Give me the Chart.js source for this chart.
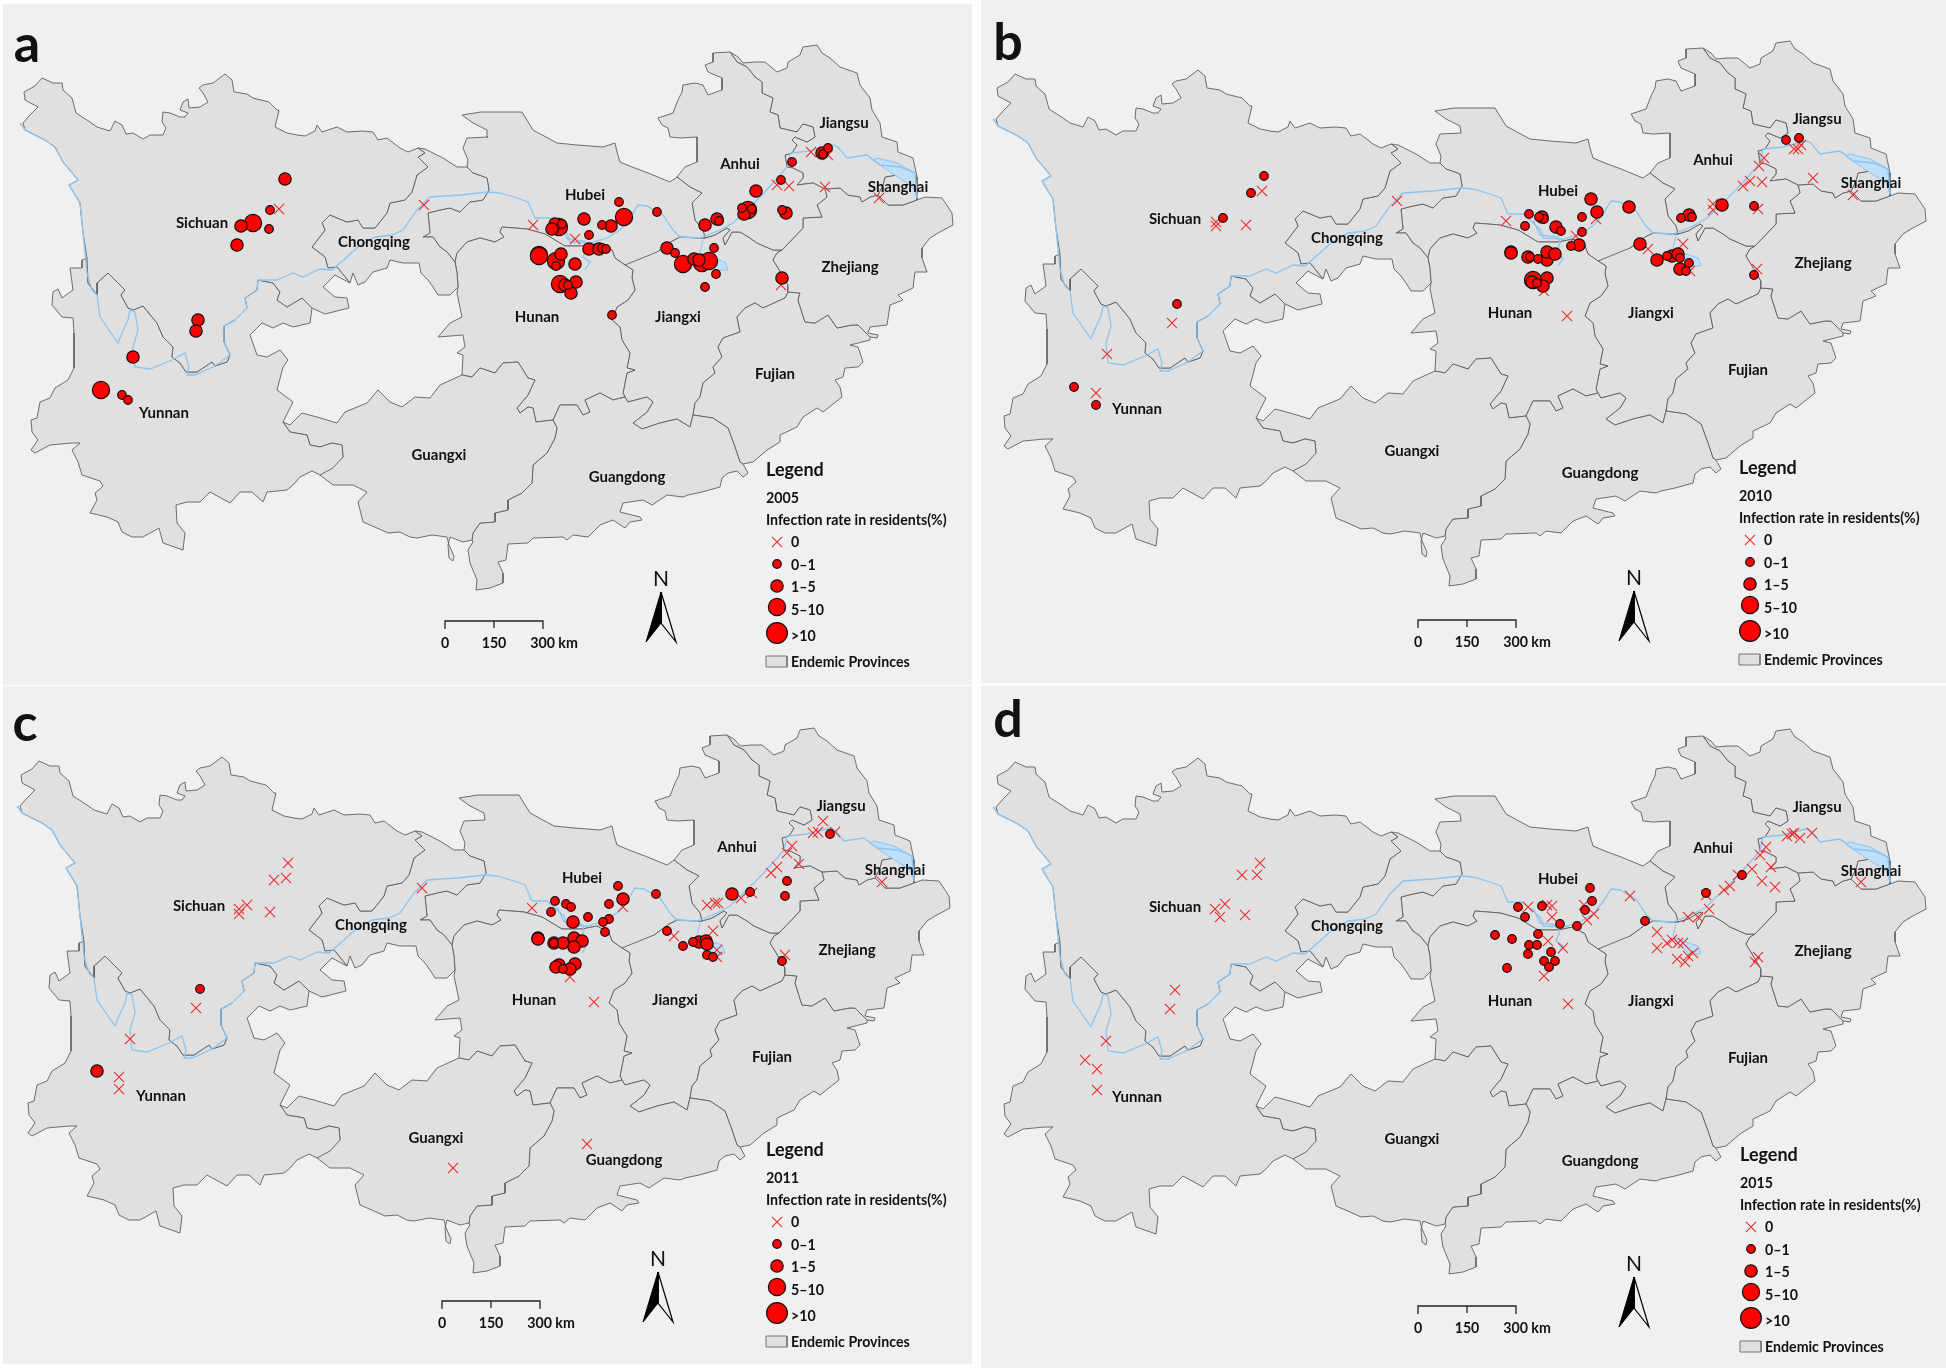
<!DOCTYPE html>
<html>
<head>
<meta charset="utf-8">
<title>Infection rate maps</title>
<script src="https://cdn.jsdelivr.net/npm/chart.js@4"></script>
<style>
  html,body { margin:0; padding:0; background:#fff; width:1946px; height:1372px; overflow:hidden; }
  .panel { position:absolute; background:#f0f0f0; }
  .panel canvas { display:block; }
</style>
</head>
<body>
<script>
// map units are pixels of panel a, the other panels just shift the axis range
const sichuan = [[24,92],[35,86],[42,78],[53,83],[62,83],[63,90],[72,98],[76,113],[90,122],[97,127],[110,131],[115,121],[122,125],[126,134],[133,133],[143,139],[150,135],[163,135],[166,128],[162,122],[163,112],[170,113],[180,117],[185,117],[188,113],[180,110],[183,102],[188,99],[189,108],[200,107],[208,102],[203,93],[199,88],[203,85],[213,83],[225,74],[232,80],[234,92],[247,94],[253,98],[269,102],[277,110],[279,110],[275,127],[287,133],[297,135],[305,136],[315,131],[317,125],[322,132],[337,127],[347,132],[363,131],[373,132],[378,140],[387,138],[400,148],[408,152],[418,148],[425,153],[418,157],[428,167],[417,175],[412,192],[405,200],[390,203],[387,213],[375,228],[363,228],[358,220],[347,222],[330,215],[322,223],[325,230],[312,247],[325,257],[328,268],[337,267],[350,283],[335,275],[323,287],[335,297],[347,298],[349,308],[325,314],[312,308],[302,298],[287,307],[277,300],[280,292],[273,283],[258,280],[257,290],[245,298],[247,308],[235,320],[224,326],[224,342],[230,355],[227,362],[215,366],[212,362],[197,372],[186,372],[180,363],[172,357],[173,347],[163,337],[157,323],[143,306],[133,310],[128,308],[121,295],[125,290],[115,280],[108,273],[97,283],[97,295],[88,283],[87,258],[83,233],[80,203],[69,185],[78,180],[63,162],[55,147],[45,140],[25,130],[23,123],[30,115],[38,107],[25,100],[24,92]];
const chongqing = [[418,148],[425,149],[443,158],[457,167],[467,167],[473,173],[487,178],[489,190],[483,200],[470,202],[460,212],[450,208],[440,210],[428,213],[430,233],[423,237],[433,237],[440,247],[447,252],[455,262],[457,273],[458,287],[450,295],[438,295],[433,287],[428,280],[421,273],[419,263],[403,263],[390,260],[387,268],[373,272],[365,282],[358,285],[353,273],[350,283],[337,267],[328,268],[325,257],[312,247],[325,230],[322,223],[330,215],[347,222],[358,220],[363,228],[375,228],[387,213],[390,203],[405,200],[412,192],[417,175],[428,167],[418,157],[425,153],[418,148]];
const yunnan = [[87,258],[82,260],[82,268],[70,268],[73,290],[62,298],[58,289],[53,292],[52,305],[62,317],[73,318],[74,333],[74,368],[68,380],[55,388],[50,398],[40,402],[37,418],[31,420],[32,432],[38,440],[31,450],[35,453],[50,445],[72,443],[80,443],[72,450],[78,462],[82,475],[100,481],[103,486],[95,493],[97,500],[90,513],[107,517],[118,522],[122,532],[132,537],[143,537],[159,528],[163,543],[183,550],[185,533],[177,523],[176,505],[187,502],[200,502],[210,492],[230,503],[240,492],[252,492],[263,502],[267,492],[287,490],[293,485],[300,477],[312,471],[320,475],[333,468],[343,457],[342,445],[332,443],[320,447],[310,445],[307,435],[290,432],[283,422],[293,402],[277,390],[283,367],[288,360],[280,350],[267,357],[257,355],[250,335],[262,323],[273,328],[283,323],[293,327],[310,323],[312,308],[302,298],[287,307],[277,300],[280,292],[273,283],[258,280],[257,290],[245,298],[247,308],[235,320],[224,326],[224,342],[230,355],[227,362],[215,366],[212,362],[197,372],[186,372],[180,363],[172,357],[173,347],[163,337],[157,323],[143,306],[133,310],[128,308],[121,295],[125,290],[115,280],[108,273],[97,283],[97,295],[88,283],[87,258]];
const guangxi = [[283,422],[290,425],[302,413],[317,417],[337,423],[345,412],[367,403],[378,390],[390,402],[402,407],[415,397],[430,398],[440,385],[462,375],[472,377],[480,368],[495,373],[503,363],[518,362],[528,378],[535,380],[528,395],[517,408],[520,413],[528,407],[533,408],[536,422],[553,420],[557,428],[555,438],[547,453],[533,465],[532,483],[522,493],[508,500],[508,510],[495,513],[495,522],[480,523],[473,533],[472,540],[463,542],[450,537],[448,545],[449,558],[453,561],[454,556],[449,545],[447,537],[432,535],[417,538],[410,537],[400,532],[388,533],[377,528],[363,522],[358,502],[367,492],[353,485],[333,485],[320,475],[343,457],[342,445],[332,443],[320,447],[310,445],[307,435],[290,432],[283,422]];
const guangdong = [[553,420],[560,405],[577,405],[583,415],[590,412],[585,400],[600,393],[613,400],[625,397],[628,402],[647,397],[653,402],[647,412],[633,423],[642,429],[660,423],[677,419],[690,427],[693,415],[713,418],[728,428],[735,447],[740,462],[743,464],[748,473],[743,477],[737,471],[728,473],[722,478],[720,487],[702,492],[688,495],[683,497],[667,495],[652,505],[643,500],[623,503],[620,512],[640,517],[642,520],[630,522],[625,528],[613,520],[600,525],[588,537],[573,535],[567,540],[563,537],[533,538],[528,543],[508,544],[506,560],[498,562],[503,573],[503,583],[490,588],[476,590],[477,580],[470,563],[468,550],[473,542],[472,540],[473,533],[480,523],[495,522],[495,513],[508,510],[508,500],[522,493],[532,483],[533,465],[547,453],[555,438],[557,428],[553,420]];
const hunan = [[455,262],[457,253],[467,242],[480,238],[495,242],[504,237],[500,232],[502,227],[527,229],[545,234],[565,246],[585,246],[600,243],[612,250],[615,258],[625,265],[633,270],[632,278],[635,290],[628,300],[617,307],[612,320],[620,327],[622,340],[630,353],[627,368],[635,370],[627,373],[623,393],[625,397],[613,400],[600,393],[585,400],[590,412],[583,415],[577,405],[560,405],[553,420],[536,422],[533,408],[528,407],[520,413],[517,408],[528,395],[535,380],[528,378],[518,362],[503,363],[495,373],[480,368],[472,377],[462,375],[463,355],[457,353],[465,347],[463,335],[438,337],[450,323],[462,317],[457,293],[458,287],[457,273],[455,262]];
const hubei = [[462,115],[481,112],[522,112],[533,130],[557,143],[577,145],[603,147],[615,143],[617,152],[620,162],[632,167],[648,173],[670,182],[677,177],[690,187],[702,193],[692,203],[695,220],[703,230],[705,238],[700,238],[680,237],[672,241],[657,252],[625,265],[615,258],[612,250],[600,243],[585,246],[565,246],[545,234],[527,229],[502,227],[500,232],[504,237],[495,242],[480,238],[467,242],[457,253],[455,262],[447,252],[440,247],[433,237],[423,237],[430,233],[428,213],[440,210],[450,208],[460,212],[470,202],[483,200],[489,190],[487,178],[473,173],[467,167],[468,160],[463,148],[467,138],[488,137],[487,130],[473,123],[462,115]];
const anhui = [[658,118],[662,125],[668,128],[670,137],[680,138],[697,137],[697,162],[685,167],[677,177],[690,187],[702,193],[692,203],[695,220],[703,230],[705,238],[715,235],[727,228],[730,230],[723,238],[725,245],[732,232],[740,232],[750,238],[757,243],[773,250],[782,250],[803,228],[803,218],[822,217],[817,205],[827,197],[825,189],[813,183],[797,185],[803,178],[803,173],[793,168],[787,167],[785,155],[792,153],[797,145],[792,140],[795,137],[807,142],[815,137],[813,127],[803,124],[797,132],[780,128],[778,115],[770,112],[773,98],[762,93],[762,82],[755,77],[747,67],[737,62],[730,52],[713,53],[713,62],[705,65],[708,72],[722,78],[722,90],[708,95],[703,85],[695,83],[683,85],[682,92],[678,100],[673,113],[658,118]];
const jiangsu = [[730,52],[738,57],[743,63],[755,62],[765,62],[777,72],[787,68],[788,62],[800,55],[803,47],[817,45],[822,53],[830,58],[840,67],[857,73],[860,85],[870,98],[872,110],[880,123],[882,137],[897,142],[898,152],[913,158],[917,177],[897,175],[885,177],[883,185],[878,195],[870,197],[862,202],[860,197],[848,195],[840,188],[825,189],[813,183],[797,185],[803,178],[803,173],[793,168],[787,167],[785,155],[792,153],[797,145],[792,140],[795,137],[807,142],[815,137],[813,127],[803,124],[797,132],[780,128],[778,115],[770,112],[773,98],[762,93],[762,82],[755,77],[747,67],[737,62],[730,52]];
const shanghai = [[917,177],[917,200],[903,205],[888,205],[878,195],[883,185],[885,177],[897,175],[917,177]];
const zhejiang = [[917,200],[925,197],[942,198],[952,213],[953,225],[938,233],[930,238],[922,248],[922,258],[927,272],[915,272],[913,288],[898,295],[903,300],[890,305],[887,325],[870,327],[868,333],[878,335],[877,338],[870,337],[858,325],[852,325],[837,328],[828,315],[815,323],[805,322],[798,300],[800,293],[788,292],[788,285],[778,268],[773,260],[777,253],[782,250],[803,228],[803,218],[822,217],[817,205],[827,197],[825,189],[840,188],[848,195],[860,197],[862,202],[870,197],[878,195],[888,205],[903,205],[917,200]];
const fujian = [[788,292],[785,298],[763,308],[755,303],[745,308],[737,317],[740,332],[723,338],[718,347],[722,357],[713,367],[715,373],[703,383],[700,397],[695,403],[693,415],[713,418],[728,428],[735,447],[740,462],[743,464],[753,462],[767,450],[780,442],[780,435],[797,427],[803,417],[817,408],[823,412],[842,397],[840,387],[835,380],[843,377],[845,368],[858,367],[863,362],[858,347],[850,345],[870,340],[870,337],[858,325],[852,325],[837,328],[828,315],[815,323],[805,322],[798,300],[800,293],[788,292]];
const jiangxi = [[625,265],[637,256],[657,252],[672,241],[680,237],[700,238],[705,238],[715,235],[727,228],[730,230],[723,238],[725,245],[732,232],[740,232],[750,238],[757,243],[773,250],[782,250],[777,253],[773,260],[778,268],[788,285],[788,292],[785,298],[763,308],[755,303],[745,308],[737,317],[740,332],[723,338],[718,347],[722,357],[713,367],[715,373],[703,383],[700,397],[695,403],[693,415],[690,427],[677,419],[660,423],[642,429],[633,423],[647,412],[653,402],[647,397],[628,402],[625,397],[623,393],[627,373],[635,370],[627,368],[630,353],[622,340],[620,327],[612,320],[617,307],[628,300],[635,290],[632,278],[633,270],[625,265]];
const provinceShapes = [sichuan, chongqing, yunnan, guangxi, guangdong, hunan, hubei, anhui, jiangsu, shanghai, zhejiang, fujian, jiangxi];

const riverMain = [[20,123],[25,130],[45,140],[55,147],[63,162],[78,180],[69,185],[80,203],[83,233],[87,273],[92,290],[97,295],[100,317],[118,343],[122,333],[128,320],[130,310],[135,312],[138,330],[133,347],[135,367],[150,369],[172,360],[185,353],[189,367],[187,375],[195,375],[215,366],[230,355],[224,342],[224,326],[235,320],[247,308],[245,298],[257,290],[258,280],[277,280],[293,273],[303,277],[320,269],[332,270],[347,257],[358,247],[375,237],[392,235],[403,230],[417,210],[430,197],[460,195],[488,192],[500,193],[517,198],[528,202],[535,218],[550,218],[567,233],[570,242],[590,243],[607,238],[620,230],[630,218],[638,205],[647,206],[663,215],[673,230],[680,237],[700,238],[720,230],[733,223],[762,195],[773,183],[787,167],[790,153],[810,151],[833,145],[838,147],[847,158],[867,155],[880,165],[900,167],[915,173],[917,198]];
const riverBranch = [[560,224],[567,239],[585,241],[587,247],[583,257],[590,262],[585,270]];
const poyangLake = [[703,240],[700,253],[713,258],[725,262],[728,270],[716,270],[708,262],[700,253]];
const estuary = [[873,160],[887,170],[913,187],[917,198],[915,173],[897,163],[877,158],[873,160]];

// panel a (2005)
const zeroA = [[279,209],[424,205],[533,225],[575,239],[777,185],[789,186],[825,187],[879,198],[781,285],[811,152],[828,155]];
const lowA  = [[270,210],[269,229],[122,395],[128,400],[562,224],[619,202],[602,225],[589,235],[602,248],[606,249],[556,266],[568,285],[612,315],[675,253],[714,248],[716,274],[705,287],[657,212],[719,221],[742,208],[752,209],[782,210],[781,180],[792,162],[823,154],[828,148]];
const midA  = [[285,179],[241,226],[237,245],[198,320],[196,331],[133,357],[555,224],[552,229],[584,219],[611,226],[589,249],[599,249],[561,254],[575,264],[565,285],[576,282],[571,293],[667,248],[694,259],[699,260],[705,225],[717,219],[756,191],[744,214],[786,213],[782,278],[822,153]];
const highA = [[253,223],[101,390],[559,227],[624,217],[539,255],[539,256],[556,261],[560,284],[683,264],[702,263],[709,261],[748,210]];

// panel b (2010)
const zeroB = [[289,195],[243,226],[243,230],[273,229],[199,327],[134,358],[123,397],[424,205],[533,225],[603,240],[623,223],[675,253],[710,248],[717,275],[571,295],[594,320],[740,214],[740,208],[770,190],[777,185],[789,186],[786,170],[791,162],[785,213],[840,182],[880,199],[784,273],[821,153],[825,153],[828,149]];
const lowB  = [[291,180],[278,197],[250,222],[204,308],[101,391],[123,409],[609,221],[556,218],[571,223],[566,221],[552,230],[588,235],[609,236],[598,250],[557,261],[565,263],[564,287],[694,260],[707,262],[716,267],[713,275],[708,222],[719,221],[781,210],[781,279],[813,144],[826,142]];
const midB  = [[618,203],[624,216],[656,211],[569,221],[583,231],[606,249],[538,256],[538,257],[555,261],[574,264],[574,256],[582,258],[574,282],[570,290],[559,286],[667,248],[684,264],[699,260],[705,258],[707,273],[716,219],[749,209]];
const highB = [[560,284]];

// panel c (2011)
const zeroC = [[291,180],[289,195],[277,197],[250,222],[242,226],[242,231],[273,229],[199,325],[133,356],[122,394],[122,406],[425,205],[456,485],[590,461],[535,225],[626,224],[677,253],[716,248],[720,267],[720,274],[573,294],[597,319],[710,222],[718,220],[721,220],[744,215],[755,210],[774,190],[780,184],[790,170],[795,163],[802,181],[816,150],[821,149],[826,138],[838,149],[885,199],[788,272]];
const lowC  = [[203,306],[621,203],[612,221],[659,211],[558,218],[569,221],[574,224],[554,229],[591,234],[612,236],[606,239],[608,249],[557,260],[566,286],[670,248],[686,263],[696,259],[710,272],[716,274],[753,209],[790,198],[788,213],[785,278],[833,151]];
const midC  = [[100,388],[626,216],[576,239],[541,255],[541,256],[557,260],[566,260],[577,255],[585,258],[577,264],[562,282],[559,284],[578,281],[573,286],[702,259],[709,258],[710,261],[735,211]];
const highC = [];

// panel d (2015)
const zeroD = [[287,179],[284,191],[269,191],[252,220],[242,225],[247,233],[272,231],[202,306],[197,325],[133,357],[112,376],[124,385],[124,406],[595,320],[555,223],[574,221],[579,222],[579,233],[611,221],[621,230],[614,236],[575,257],[590,264],[571,292],[657,212],[684,248],[684,264],[694,259],[699,256],[705,259],[710,259],[720,269],[715,272],[704,275],[712,278],[715,233],[725,233],[736,225],[751,206],[757,202],[779,185],[787,171],[793,163],[798,183],[789,197],[802,203],[765,191],[814,152],[819,150],[821,149],[827,154],[839,149],[733,211],[888,198],[785,273],[782,278]];
const lowD  = [[617,204],[619,217],[612,226],[545,223],[569,222],[552,233],[587,240],[604,242],[522,251],[539,255],[565,250],[556,261],[564,261],[555,270],[578,268],[571,277],[582,277],[576,283],[534,284],[672,237],[733,209],[769,191]];
const midD  = [];
const highD = [];

const provinceNames = ['Sichuan','Chongqing','Yunnan','Guangxi','Hubei','Anhui','Hunan','Jiangxi','Zhejiang','Shanghai','Jiangsu','Fujian','Guangdong'];
const provinceX = [202,374,164,439,585,740,537,678,850,898,844,775,627];
const provinceY = [223,242,413,455,195,164,317,317,267,187,123,374,477];

const panelLetters = ['a','b','c','d'];
const panelYears = ['2005','2010','2011','2015'];
const legendLabels = ['0','0\u20131','1\u20135','5\u201310','>10'];
const legendRowY = [542,564,586,607,633];
const legendTextY = [542,565,587,610,636];
const scaleLabels = ['0','150','300 km'];
const scaleLabelX = [445,494,554];

const panelBoxes = [[3,4,969,681],[981,0,965,683],[3,686,969,678],[981,686,965,682]];
const mapShift = [[0,0],[973,-4],[-3,683],[973,684]];
const legendShift = [[0,0],[0,2],[3,-3],[1,1]];
const scaleShift = [[0,0],[0,3],[0,-3],[0,1]];
const letterPos = [[27,45],[1008,43],[25,724],[1008,720]];
const zeroSets = [zeroA, zeroB, zeroC, zeroD];
const lowSets  = [lowA, lowB, lowC, lowD];
const midSets  = [midA, midB, midC, midD];
const highSets = [highA, highB, highC, highD];

const RED = '#ff0000', CROSS = '#ee2b2b', EDGE = '#111';
const RADII = [4.3, 6.2, 8.6, 10.4];

function polyDs(data, fillCol, lineCol, width, order) {
  return { type:'scatter', data, showLine:true, fill:'shape', tension:0, pointRadius:0,
           backgroundColor:fillCol, borderColor:lineCol, borderWidth:width, order };
}
function lineDs(data, col, width, order) {
  return { type:'scatter', data, showLine:true, fill:false, tension:0, pointRadius:0,
           borderColor:col, borderWidth:width, order };
}
function dotDs(data, r, order) {
  return { type:'scatter', data, pointStyle:'circle', pointRadius:r, pointBackgroundColor:RED,
           pointBorderColor:EDGE, pointBorderWidth:1.2, order };
}
function crossDs(data, order) {
  return { type:'scatter', data, pointStyle:'crossRot', pointRadius:7.2, pointBackgroundColor:CROSS,
           pointBorderColor:CROSS, pointBorderWidth:1.1, order };
}

function panelText(i) {
  return {
    id:'panelText'+i,
    afterDatasetsDraw(chart) {
      const ctx = chart.ctx, sx = chart.scales.x, sy = chart.scales.y;
      const put = (t, x, y, font, align) => {
        ctx.font = font; ctx.textAlign = align || 'left'; ctx.textBaseline = 'middle';
        ctx.fillStyle = '#111';
        ctx.fillText(t, sx.getPixelForValue(x), sy.getPixelForValue(y));
      };
      provinceNames.forEach((n,k) => put(n, provinceX[k], provinceY[k], 'bold 15px Lato', 'center'));
      const [lx, ly] = legendShift[i], [bx, by] = scaleShift[i];
      put('Legend', 766+lx, 470+ly, 'bold 18px Lato');
      put(panelYears[i], 766+lx, 498+ly, 'bold 14.2px Lato');
      put('Infection rate in residents(%)', 766+lx, 520+ly, 'bold 14.2px Lato');
      legendLabels.forEach((t,k) => put(t, 791+lx, legendTextY[k]+ly, 'bold 14.2px Lato'));
      put('Endemic Provinces', 791+lx, 662+ly, 'bold 14.2px Lato');
      scaleLabels.forEach((t,k) => put(t, scaleLabelX[k]+bx, 643+by, 'bold 14.2px Lato', 'center'));
      put('N', 661+bx, 579+by, '21px Lato', 'center');
      ctx.font = 'bold 52px Lato'; ctx.textAlign = 'center'; ctx.textBaseline = 'middle';
      ctx.fillText(panelLetters[i], letterPos[i][0]-panelBoxes[i][0], letterPos[i][1]-panelBoxes[i][1]);
    }
  };
}

function drawPanel(i) {
  const [left, top, w, h] = panelBoxes[i];
  const [dx, dy] = mapShift[i];
  const [lx, ly] = legendShift[i], [bx, by] = scaleShift[i];
  const box = document.createElement('div');
  box.className = 'panel';
  box.style.cssText = `left:${left}px;top:${top}px;width:${w}px;height:${h}px`;
  const cv = document.createElement('canvas');
  cv.width = w; cv.height = h;
  box.appendChild(cv);
  document.body.appendChild(box);

  const datasets = [];
  provinceShapes.forEach(p => datasets.push(polyDs(p, '#e0e0e0', '#5f5f5f', 0.9, 9)));
  datasets.push(polyDs(estuary, '#bfe0f8', '#8cc4f0', 1, 8));
  datasets.push(polyDs(poyangLake, '#bfe0f8', '#8cc4f0', 1, 8));
  datasets.push(lineDs(riverMain, '#8cc4f0', 1.3, 7));
  datasets.push(lineDs(riverBranch, '#8cc4f0', 1.3, 7));
  datasets.push(crossDs(zeroSets[i], 5));
  datasets.push(dotDs(highSets[i], RADII[2], 4));
  datasets.push(dotDs(midSets[i], RADII[1], 3));
  datasets.push(dotDs(lowSets[i], RADII[0], 2));

  // legend symbols
  datasets.push(crossDs([[777+lx, legendRowY[0]+ly]], 1));
  [1,2,3,4].forEach(k => datasets.push(dotDs([[777+lx, legendRowY[k]+ly]], RADII[k-1], 1)));
  datasets.push(polyDs([[766+lx,656+ly],[787+lx,656+ly],[787+lx,667+ly],[766+lx,667+ly],[766+lx,656+ly]], '#e0e0e0', '#777', 1, 1));

  // scale bar and north arrow
  datasets.push(lineDs([[445+bx,629+by],[445+bx,621+by],[543+bx,621+by],[543+bx,629+by]], '#222', 1.3, 1));
  datasets.push(lineDs([[494+bx,621+by],[494+bx,628+by]], '#222', 1.3, 1));
  datasets.push(polyDs([[661+bx,592+by],[661+bx,623+by],[646+bx,642+by],[661+bx,592+by]], '#000', '#000', 1, 1));
  datasets.push(polyDs([[661+bx,592+by],[676+bx,642+by],[661+bx,623+by],[661+bx,592+by]], '#f0f0f0', '#000', 1.2, 1));

  new Chart(cv.getContext('2d'), {
    type:'scatter',
    data:{ datasets },
    options:{
      responsive:false, animation:false, events:[],
      layout:{ padding:0, autoPadding:false },
      plugins:{ legend:{display:false}, tooltip:{enabled:false} },
      scales:{
        x:{ type:'linear', display:false, min:left-dx, max:left+w-dx },
        y:{ type:'linear', display:false, reverse:true, min:top-dy, max:top+h-dy }
      }
    },
    plugins:[panelText(i)]
  });
}

[0,1,2,3].forEach(drawPanel);
</script>
</body>
</html>
